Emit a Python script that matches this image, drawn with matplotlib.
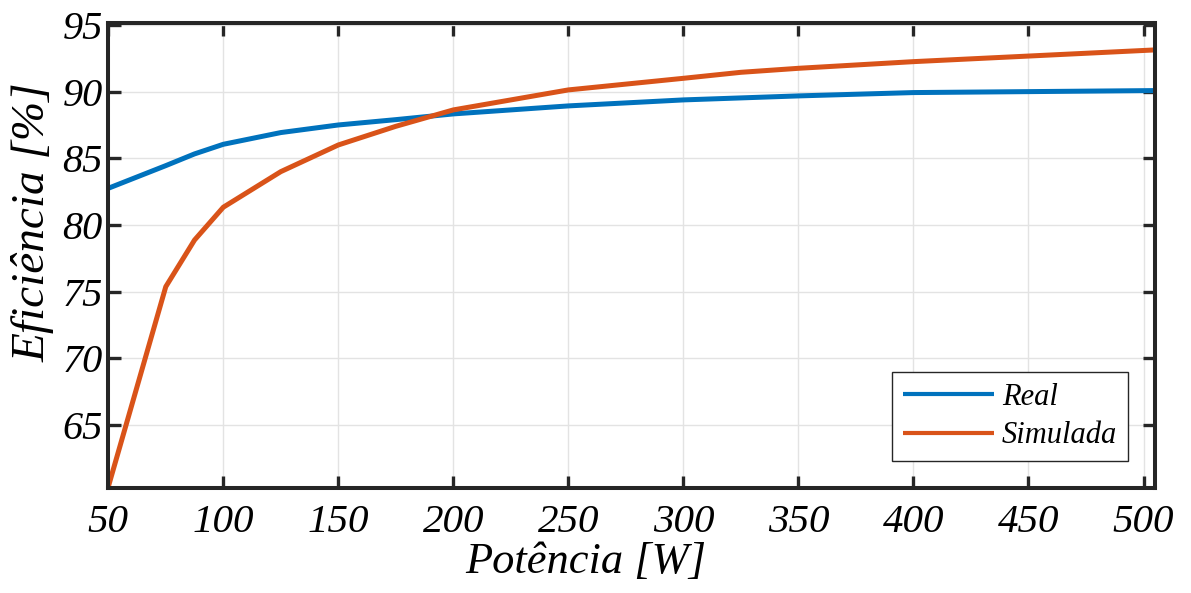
import matplotlib
matplotlib.use("Agg")
import matplotlib.pyplot as plt

potencia_real = [50, 75, 87.5, 100, 125, 150, 175, 200, 250, 300, 350, 400, 505]
eficiencia_real = [82.75, 84.45, 85.33, 86.05, 86.93, 87.5, 87.9, 88.33, 88.93, 89.38, 89.68, 89.93, 90.08]

potencia_sim = [50, 75, 87.5, 100, 125, 150, 175, 200, 250, 300, 325, 350, 400, 505]
eficiencia_sim = [60.35, 75.37, 78.87, 81.33, 84.0, 86.0, 87.4, 88.63, 90.13, 91.0, 91.45, 91.75, 92.25, 93.13]

xticks = [50, 100, 150, 200, 250, 300, 350, 400, 450, 500]
yticks = [65, 70, 75, 80, 85, 90, 95]

serif = ['Liberation Serif', 'DejaVu Serif']

fig = plt.figure(figsize=(11.91, 5.93), dpi=100)
ax = fig.add_axes([0.0909, 0.1766, 0.9698 - 0.0909, 0.9617 - 0.1766])

ax.plot(potencia_real, eficiencia_real, color='#0072BD', lw=3.6, label='Real', solid_capstyle='butt')
ax.plot(potencia_sim, eficiencia_sim, color='#D95319', lw=3.6, label='Simulada', solid_capstyle='butt')

ax.set_xlim(50, 505)
ax.set_ylim(60.25, 95.17)
ax.set_xticks(xticks)
ax.set_yticks(yticks)
ax.set_xticklabels([str(v) for v in xticks], family=serif, style='italic', fontsize=29.5)
ax.set_yticklabels([str(v) for v in yticks], family=serif, style='italic', fontsize=29)

ax.grid(True, color='#e3e3e3', lw=1.0)
ax.set_axisbelow(True)
for s in ax.spines.values():
    s.set_linewidth(2.9)
    s.set_color('#262626')
ax.tick_params(direction='in', length=9, width=2.4, color='#262626', top=True, right=True,
               labelcolor='black')
ax.tick_params(axis='x', pad=11)
ax.tick_params(axis='y', pad=4)

ax.set_xlabel('Potência [W]', family=serif, style='italic', fontsize=32)
ax.xaxis.set_label_coords(0.456, -0.116)
ax.set_ylabel('Eficiência [%]', family=serif, style='italic', fontsize=34)
ax.yaxis.set_label_coords(-0.051, 0.572)

leg = ax.legend(loc='lower right', bbox_to_anchor=(0.974, 0.0586), borderaxespad=0,
                prop={'family': serif, 'style': 'italic', 'size': 22},
                frameon=True, fancybox=False, edgecolor='#262626', framealpha=1,
                handlelength=3.0, handletextpad=0.25, borderpad=0.35, labelspacing=0.3)
leg.get_frame().set_linewidth(1.0)
for l in leg.get_lines():
    l.set_linewidth(3)

fig.savefig('out.png', dpi=100)
